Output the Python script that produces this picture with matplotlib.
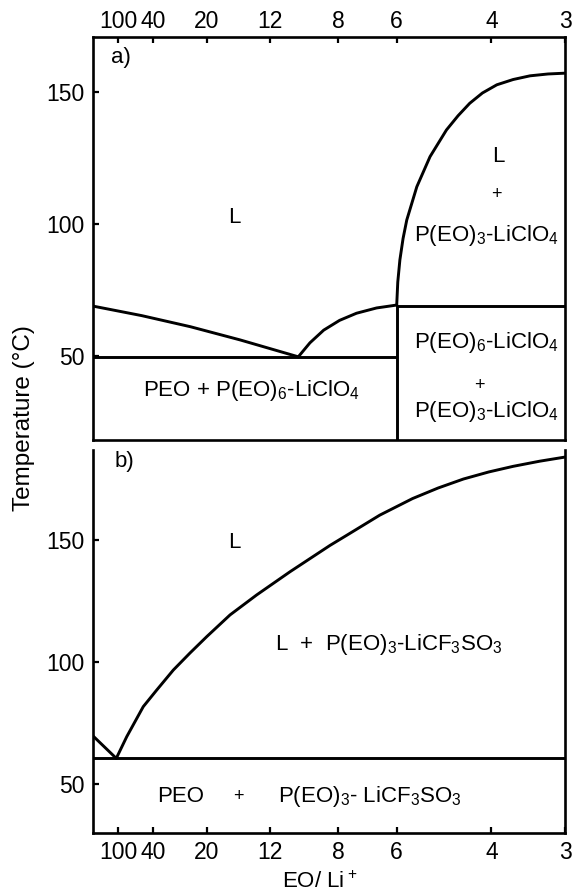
import matplotlib
matplotlib.use('Agg')
import matplotlib.pyplot as plt

plt.rcParams['font.family'] = ['Liberation Sans', 'DejaVu Sans']
plt.rcParams['mathtext.fontset'] = 'custom'
plt.rcParams['mathtext.rm'] = 'Liberation Sans'
plt.rcParams['mathtext.default'] = 'regular'

# ---------------- data ----------------
# x axis: EO/Li+ ratio, drawn on a salt weight-fraction scale
eo_li_ticks = [100, 40, 20, 12, 8, 6, 4, 3]
temp_ticks = [50, 100, 150]
M_SALT, M_EO = 106.4, 44.05


def salt_frac(n):
    return M_SALT / (M_SALT + M_EO * n)


# panel a) PEO - LiClO4  (x = salt weight fraction, T in deg C)
a_liq_left_x = [0.0, 0.046, 0.092, 0.139, 0.194]
a_liq_left_T = [68.9, 65.3, 61.1, 56.1, 49.7]
a_liq_mid_x = [0.194, 0.205, 0.218, 0.233, 0.249, 0.268, 0.287]
a_liq_mid_T = [49.7, 55.0, 59.8, 63.5, 66.2, 68.2, 69.3]
a_liq_right_x = [0.287, 0.288, 0.290, 0.293, 0.2965, 0.306, 0.3185, 0.334,
                 0.345, 0.356, 0.368, 0.3816, 0.397, 0.413, 0.430, 0.446]
a_liq_right_T = [69.3, 78.0, 86.4, 94.5, 101.5, 114.1, 125.5, 135.6,
                 141.0, 145.7, 149.6, 152.7, 154.7, 156.1, 156.8, 157.1]
a_eutectic_T = 49.7
a_peritectic_T = 69.0
a_compound_n = 6

# panel b) PEO - LiCF3SO3
b_liq_left_x = [0.0, 0.022]
b_liq_left_T = [69.7, 60.5]
b_liq_x = [0.022, 0.0319, 0.0475, 0.0602, 0.0759, 0.0917, 0.1075, 0.1295,
           0.1547, 0.1862, 0.224, 0.240, 0.271, 0.302, 0.326, 0.350, 0.374,
           0.397, 0.422, 0.446]
b_liq_T = [60.5, 69.4, 81.7, 88.5, 96.7, 103.7, 110.4, 119.3,
           127.5, 137.0, 147.8, 152.0, 160.2, 167.0, 171.3, 175.0, 177.9,
           180.2, 182.3, 184.0]
b_eutectic_T = 60.5

# ---------------- figure ----------------
W, H = 572, 896
fig = plt.figure(figsize=(W / 100, H / 100), dpi=100)

def frac_box(l, t, r, b):
    return [l / W, 1 - b / H, (r - l) / W, (b - t) / H]

axA = fig.add_axes(frac_box(93, 37, 565, 440))
axB = fig.add_axes(frac_box(93, 450, 565, 833))

xmax = salt_frac(3)
LW = 2.1
FS = 16
TFS = 16.5
col = 'black'

for ax in (axA, axB):
    ax.set_xlim(0, xmax)
    for s in ax.spines.values():
        s.set_linewidth(1.9)
    ax.set_yticks(temp_ticks)
    ax.set_yticklabels([str(t) for t in temp_ticks])
    ax.set_xticks([salt_frac(n) for n in eo_li_ticks])
    ax.set_xticklabels([str(n) for n in eo_li_ticks])
    ax.tick_params(direction='in', length=4, width=1.6, labelsize=TFS, pad=6)

axA.set_ylim(18.2, 170.8)
axB.set_ylim(29.9, 186.9)

axA.xaxis.tick_top()
axA.tick_params(axis='x', top=True, bottom=False, labeltop=True, labelbottom=False, pad=3)
axA.tick_params(axis='y', right=False)
axB.spines['top'].set_visible(False)
axB.tick_params(axis='x', top=False, bottom=True, pad=6)
axB.tick_params(axis='y', right=False)

# ---- panel a) lines
w6 = salt_frac(a_compound_n)
axA.plot(a_liq_left_x, a_liq_left_T, color=col, lw=LW, solid_capstyle='round')
axA.plot(a_liq_mid_x, a_liq_mid_T, color=col, lw=LW, solid_capstyle='round')
axA.plot(a_liq_right_x, a_liq_right_T, color=col, lw=LW, solid_capstyle='round')
axA.hlines(a_eutectic_T, 0, w6, color=col, lw=LW)
axA.hlines(a_peritectic_T, w6, xmax, color=col, lw=LW)
axA.vlines(w6, axA.get_ylim()[0], a_liq_right_T[0], color=col, lw=LW)

# ---- panel a) labels
axA.text(0.017, 162.9, 'a)', fontsize=FS, ha='left', va='center')
axA.text(0.134, 102.3, 'L', fontsize=FS, ha='center', va='center')
axA.text(0.383, 125.4, 'L', fontsize=FS, ha='center', va='center')
axA.text(0.381, 111.0, '+', fontsize=FS - 3, ha='center', va='center')
axA.text(0.372, 95.5, r'P(EO)$_3$-LiClO$_4$', fontsize=FS, ha='center', va='center')
axA.text(0.372, 55.0, r'P(EO)$_6$-LiClO$_4$', fontsize=FS, ha='center', va='center')
axA.text(0.365, 39.0, '+', fontsize=FS - 3, ha='center', va='center')
axA.text(0.372, 29.0, r'P(EO)$_3$-LiClO$_4$', fontsize=FS, ha='center', va='center')
axA.text(0.047, 37.0, r'PEO + P(EO)$_6$-LiClO$_4$', fontsize=FS, ha='left', va='center')

# ---- panel b) lines
axB.plot(b_liq_left_x, b_liq_left_T, color=col, lw=LW, solid_capstyle='round')
axB.plot(b_liq_x, b_liq_T, color=col, lw=LW, solid_capstyle='round')
axB.hlines(b_eutectic_T, 0, xmax, color=col, lw=LW)

# ---- panel b) labels
axB.text(0.02, 182.0, 'b)', fontsize=FS, ha='left', va='center')
axB.text(0.134, 148.8, 'L', fontsize=FS, ha='center', va='center')
axB.text(0.172, 107.0, r'L  +  P(EO)$_3$-LiCF$_3$SO$_3$', fontsize=FS, ha='left', va='center')
axB.text(0.083, 44.7, 'PEO', fontsize=FS, ha='center', va='center')
axB.text(0.137, 44.7, '+', fontsize=FS - 3, ha='center', va='center')
axB.text(0.175, 44.7, r'P(EO)$_3$- LiCF$_3$SO$_3$', fontsize=FS, ha='left', va='center')

# ---- axis titles
fig.text(24 / W, 1 - 418 / H, 'Temperature (°C)', rotation=90, fontsize=17.5,
         ha='center', va='center')
fig.text(320 / W, 1 - 882 / H, r'EO/ Li$^+$', fontsize=FS, ha='center', va='center')

fig.savefig('out.png', dpi=100)
